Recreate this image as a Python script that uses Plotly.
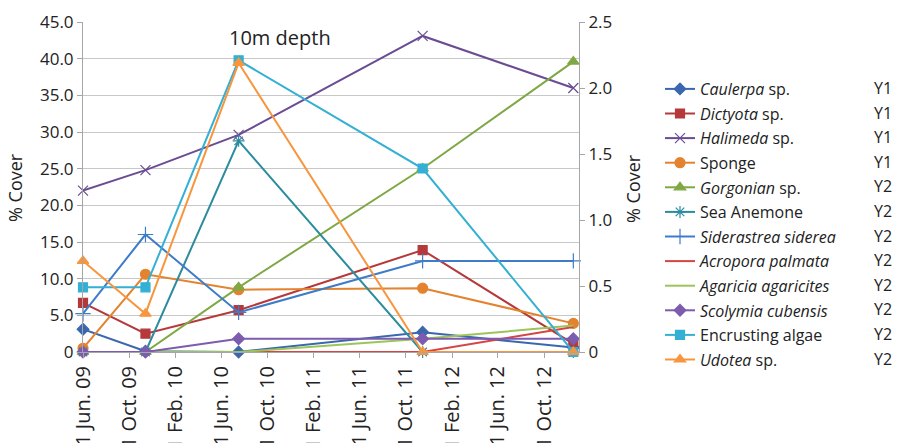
import plotly.graph_objects as go

dates = ["2009-06-01", "2009-11-13", "2010-07-17", "2011-11-15", "2012-12-17"]

caulerpa = [3.1, 0.1, 0.0, 2.7, 0.6]
dictyota = [6.7, 2.5, 5.7, 13.9, 1.1]
halimeda = [22.0, 24.8, 29.6, 43.1, 36.0]
sponge = [0.5, 10.6, 8.5, 8.7, 3.9]
gorgonian = [0.0, 0.0, 0.49, 1.39, 2.2]
sea_anemone = [0.0, 0.0, 1.6, 0.0, 0.0]
siderastrea = [0.29, 0.89, 0.30, 0.69, 0.69]
acropora = [0.0, 0.0, 0.0, 0.0, 0.19]
agaricia = [0.0, 0.0, 0.0, 0.1, 0.2]
scolymia = [0.0, 0.0, 0.1, 0.1, 0.1]
encrusting = [0.49, 0.49, 2.21, 1.39, 0.0]
udotea = [0.69, 0.29, 2.19, 0.0, 0.0]

x_tickvals = ["2009-06-01", "2009-10-01", "2010-02-01", "2010-06-01", "2010-10-01",
              "2011-02-01", "2011-06-01", "2011-10-01", "2012-02-01", "2012-06-01", "2012-10-01"]
x_ticktext = ["1 Jun. 09", "1 Oct. 09", "1 Feb. 10", "1 Jun. 10", "1 Oct. 10",
              "1 Feb. 11", "1 Jun. 11", "1 Oct. 11", "1 Feb. 12", "1 Jun. 12", "1 Oct. 12"]
y1_tickvals = [0, 5, 10, 15, 20, 25, 30, 35, 40, 45]
y1_ticktext = ["0", "5.0", "10.0", "15.0", "20.0", "25.0", "30.0", "35.0", "40.0", "45.0"]
y2_tickvals = [0, 0.5, 1.0, 1.5, 2.0, 2.5]
y2_ticktext = ["0", "0.5", "1.0", "1.5", "2.0", "2.5"]

series = [
    ("<i>Caulerpa</i> sp.", caulerpa, "Y1", "#3A68AE", "diamond", 9),
    ("<i>Dictyota</i> sp.", dictyota, "Y1", "#B5393B", "square", 9),
    ("<i>Halimeda</i> sp.", halimeda, "Y1", "#6A4C93", "x-thin-open", 10),
    ("Sponge", sponge, "Y1", "#E3832F", "circle", 10),
    ("<i>Gorgonian</i> sp.", gorgonian, "Y2", "#7FA844", "triangle-up", 10),
    ("Sea Anemone", sea_anemone, "Y2", "#2B8C9E", "asterisk-open", 10),
    ("<i>Siderastrea siderea</i>", siderastrea, "Y2", "#3E7CC9", "cross-thin-open", 11),
    ("<i>Acropora palmata</i>", acropora, "Y2", "#D64545", None, 0),
    ("<i>Agaricia agaricites</i>", agaricia, "Y2", "#9DC35B", None, 0),
    ("<i>Scolymia cubensis</i>", scolymia, "Y2", "#7D5BAF", "diamond", 9),
    ("Encrusting algae", encrusting, "Y2", "#33B0D3", "square", 9),
    ("<i>Udotea</i> sp.", udotea, "Y2", "#F7963E", "triangle-up", 10),
]

font_family = "Open Sans"
fig = go.Figure()
for i, (name, vals, ax, color, sym, size) in enumerate(series):
    kw = dict(mode="lines")
    if sym:
        kw = dict(mode="lines+markers",
                  marker=dict(symbol=sym, size=size, color=color,
                              line=dict(color=color, width=1.2)))
    fig.add_trace(go.Scatter(
        x=dates, y=vals, name=name, yaxis="y" if ax == "Y1" else "y2",
        line=dict(color=color, width=2), legendgroup="g%d" % i,
        cliponaxis=False, **kw))

L, R, T, B = 83, 320, 22, 91
W, H = 899, 443
pw = W - L - R
ph = H - T - B

fig.update_layout(
    width=W, height=H,
    margin=dict(l=L, r=R, t=T, b=B, autoexpand=False),
    paper_bgcolor="white", plot_bgcolor="white",
    font=dict(family=font_family, size=16, color="#222222"),
    showlegend=True,
    legend=dict(x=(660 - L) / pw, y=(352 - 72) / ph, xanchor="left", yanchor="top",
                font=dict(size=16, color="#222222"), tracegroupgap=0.8,
                itemwidth=30, bgcolor="rgba(0,0,0,0)", traceorder="grouped"),
    xaxis=dict(type="date", range=["2009-06-01", "2013-01-01"],
               tickvals=x_tickvals, ticktext=x_ticktext, tickangle=-90,
               showgrid=False, showline=True, linecolor="#A6A6A6", linewidth=1,
               ticks="outside", ticklen=5, tickcolor="#A6A6A6",
               tickfont=dict(size=20), zeroline=False, automargin=False),
    yaxis=dict(range=[0, 45], tickvals=y1_tickvals, ticktext=y1_ticktext,
               showgrid=True, gridcolor="#C8C8C8", gridwidth=1,
               showline=True, linecolor="#A6A6A6", ticks="outside", ticklen=5,
               tickcolor="#A6A6A6", zeroline=False, tickfont=dict(size=17),
               automargin=False),
    yaxis2=dict(range=[0, 2.5], tickvals=y2_tickvals, ticktext=y2_ticktext,
                overlaying="y", side="right", showgrid=False,
                showline=True, linecolor="#A6A6A6", ticks="outside", ticklen=5,
                tickcolor="#A6A6A6", zeroline=False, tickfont=dict(size=17),
                automargin=False),
)

# Title and axis titles
fig.add_annotation(text="10m depth", x=(280 - L) / pw, y=(352 - 38) / ph,
                   xref="paper", yref="paper", showarrow=False,
                   xanchor="center", yanchor="middle",
                   font=dict(size=20, color="#222222"))
fig.add_annotation(text="% Cover", x=(15 - L) / pw, y=(352 - 188) / ph,
                   xref="paper", yref="paper", showarrow=False, textangle=-90,
                   xanchor="center", yanchor="middle",
                   font=dict(size=18, color="#222222"))
fig.add_annotation(text="% Cover", x=(633 - L) / pw, y=(352 - 189) / ph,
                   xref="paper", yref="paper", showarrow=False, textangle=-90,
                   xanchor="center", yanchor="middle",
                   font=dict(size=18, color="#222222"))

# Y1 / Y2 column beside the legend
row_y0, row_dy = 88, 24.6
for i, s in enumerate(series):
    fig.add_annotation(text=s[2], x=(872 - L) / pw, y=(352 - (row_y0 + i * row_dy)) / ph,
                       xref="paper", yref="paper", showarrow=False,
                       xanchor="left", yanchor="middle",
                       font=dict(size=16, color="#222222"))

fig.write_html("out.html", config={"displayModeBar": False},
               post_script="document.body.style.margin='0px';")
